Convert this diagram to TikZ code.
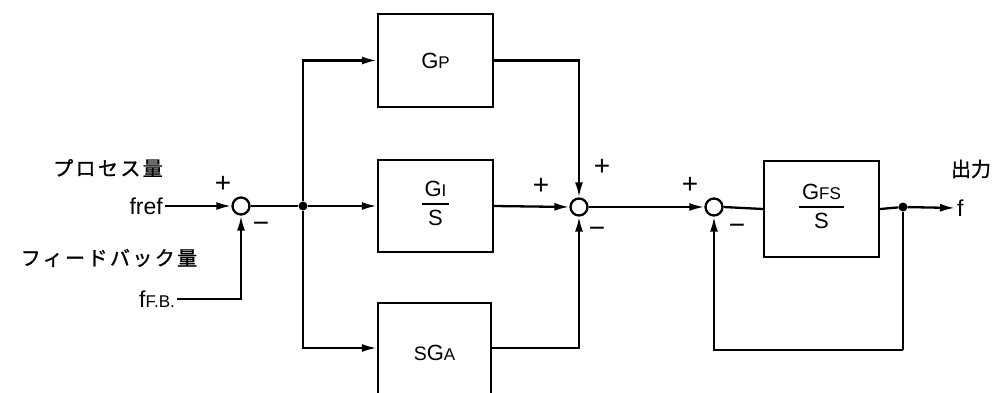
\documentclass[tikz,border=0pt]{standalone}
\usepackage{fontspec}
\setmainfont{Liberation Sans}
\newfontfamily\jp[LetterSpace=12,FakeBold=1.2]{Noto Sans CJK JP}
\newfontfamily\jpn[FakeBold=1.2]{Noto Sans CJK JP}
\usetikzlibrary{arrows.meta}
\newcommand{\fbx}[2]{{\setlength{\arrayrulewidth}{2pt}\renewcommand{\arraystretch}{1.05}\begin{tabular}{@{\hspace{3pt}}c@{\hspace{3pt}}}#1\\[-1pt]\hline\rule{0pt}{20pt}#2\end{tabular}}}
\newcommand{\sml}[1]{{\fontsize{17}{17}\selectfont #1}}
\newcommand{\mdl}[1]{{\fontsize{19.5}{19.5}\selectfont #1}}
\begin{document}
\begin{tikzpicture}[x=1pt,y=-1pt,
  blk/.style={draw, line width=2.3pt, inner sep=0pt, font=\fontsize{22}{24}\selectfont},
  sumc/.style={circle, draw, line width=2.3pt, fill=white, minimum size=17pt, inner sep=0pt},
  dotj/.style={circle, fill, minimum size=9pt, inner sep=0pt},
  ln/.style={line width=2.3pt},
  arr/.style={ln, -{Latex[length=15pt,width=8pt]}},
  sgn/.style={font=\fontsize{28}{28}\selectfont, inner sep=0pt},
  lbl/.style={font=\fontsize{23}{26}\selectfont, inner sep=2pt},
  jlbl/.style={font=\fontsize{20}{24}\selectfont\jp, inner sep=0pt}
]
\useasboundingbox (0,0) rectangle (996,393);
\clip (0,0) rectangle (996,393);

% blocks
\node[blk, minimum width=115pt, minimum height=93pt] (gp) at (435.5,60.5) {G\sml{P}};
\node[blk, minimum width=115pt, minimum height=92pt] (gi) at (435.5,206) {\fbx{G\sml{I}}{S}};
\node[blk, minimum width=113pt, minimum height=100pt] (sga) at (434.5,353) {\raisebox{-4pt}{\mdl{S}G\sml{A}}};
\node[blk, minimum width=115pt, minimum height=96pt] (gfs) at (821.5,209) {\fbx{G\sml{FS}}{S}};

% summing points and junctions
\node[sumc] (s1) at (241,206) {};
\node[sumc] (s2) at (579,207) {};
\node[sumc] (s3) at (714,207) {};
\node[dotj] (j1) at (303,206) {};
\node[dotj] (j2) at (903,207) {};

% texts
\node[jlbl] (tproc) at (108,168) {プロセス量};
\node[jlbl] (tfb) at (109,258) {フィードバック量};
\node[lbl, anchor=east] (fref) at (165,206) {fref};
\node[lbl, anchor=east] (ffb) at (177,299) {f\sml{F.B.}};
\node[font=\fontsize{20}{24}\selectfont\jpn, inner sep=0pt] (tout) at (971,169) {出力};
\node[lbl, anchor=west] (fout) at (955,208) {f};

\node[sgn] at (223,184) {+};
\node[sgn] at (261,227) {−};
\node[sgn] at (541,186) {+};
\node[sgn] at (602,167) {+};
\node[sgn] at (597,232) {−};
\node[sgn] at (690,185) {+};
\node[sgn] at (737,229) {−};

% coordinates
\coordinate (fbc) at (903,350);

% connectors
\draw[arr] (fref.east) -- (s1.west);
\draw[arr] (ffb.east) -| (s1.south);
\draw[ln] (s1.east) -- (j1);
\draw[arr] (j1) |- (gp.west);
\draw[arr] (j1) -- (gi.west);
\draw[arr] (j1) |- ([yshift=5pt]sga.west);
\draw[arr] (gp.east) -| (s2.north);
\draw[arr] (gi.east) -- (s2.west);
\draw[arr] ([yshift=5pt]sga.east) -| (s2.south);
\draw[arr] (s2.east) -- (s3.west);
\draw[ln] (s3.east) -- (gfs.west);
\draw[ln] (gfs.east) -- (j2);
\draw[arr] (j2) -- (fout.west);
\draw[ln] (j2) -- (fbc);
\draw[arr] (fbc) -| (s3.south);
\end{tikzpicture}
\end{document}
